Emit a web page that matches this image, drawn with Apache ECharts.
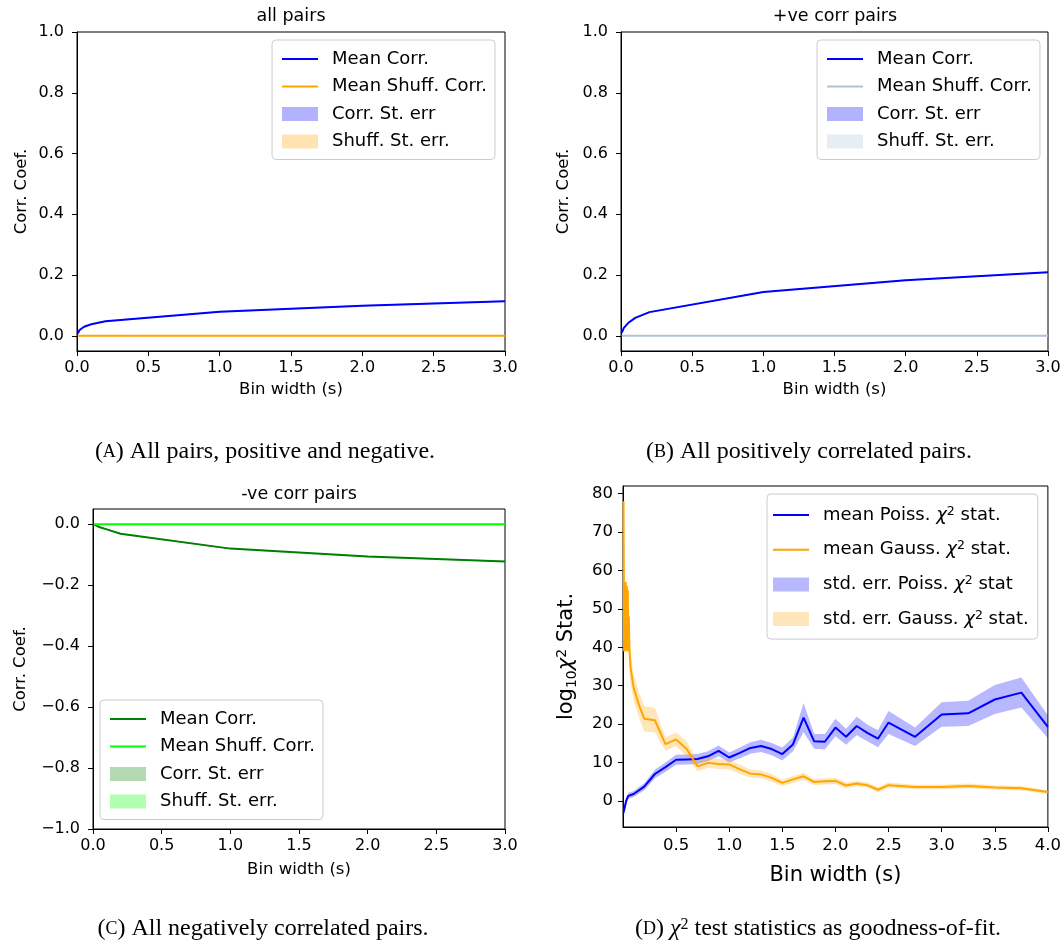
<!DOCTYPE html>
<html><head><meta charset="utf-8">
<script src="https://cdn.jsdelivr.net/npm/echarts@6/dist/echarts.min.js"></script>
<style>html,body{margin:0;padding:0;background:#fff}#c{width:1064px;height:947px}</style>
</head><body><div id="c"></div>
<script>
// ---------- data ----------
const binX = [0.005, 0.02, 0.05, 0.1, 0.2, 1.0, 2.0, 3.0];
const allMean = [0.008, 0.020, 0.030, 0.038, 0.048, 0.079, 0.099, 0.114];
const allShuff = [0, 0, 0, 0, 0, 0, 0, 0];
const posMean = [0.010, 0.026, 0.042, 0.059, 0.078, 0.144, 0.183, 0.209];
const posShuff = [0, 0, 0, 0, 0, 0, 0, 0];
const negMean = [-0.001, -0.004, -0.010, -0.017, -0.031, -0.080, -0.106, -0.122];
const negShuff = [0, 0, 0, 0, 0, 0, 0, 0];
const corrErr = [0.001, 0.0015, 0.002, 0.002, 0.002, 0.002, 0.002, 0.002];
const shuffErr = [0.0005, 0.0005, 0.0005, 0.0005, 0.0005, 0.0005, 0.0005, 0.0005];

const chiX = [0.005, 0.03, 0.05, 0.1, 0.2, 0.3, 0.4, 0.5, 0.6, 0.7, 0.8, 0.9, 1.0, 1.1, 1.2, 1.3, 1.4, 1.5, 1.6, 1.7, 1.8, 1.9, 2.0, 2.1, 2.2, 2.3, 2.4, 2.5, 2.75, 3.0, 3.25, 3.5, 3.75, 4.0];
const poissMean = [-3.0, 0.0, 1.3, 1.8, 3.7, 7.0, 8.8, 10.7, 10.8, 10.9, 11.6, 13.0, 11.3, 12.5, 13.8, 14.3, 13.5, 12.2, 14.7, 21.7, 15.5, 15.4, 19.1, 16.7, 19.5, 17.7, 16.2, 20.4, 16.7, 22.5, 22.8, 26.4, 28.2, 19.3];
const poissErr = [1.5, 1.0, 0.8, 0.8, 0.9, 1.1, 1.2, 1.3, 1.3, 1.3, 1.3, 1.4, 1.3, 1.4, 1.5, 1.6, 1.6, 1.7, 1.8, 3.8, 1.9, 2.0, 2.3, 2.1, 2.4, 2.2, 2.2, 3.0, 2.4, 3.2, 3.3, 3.8, 3.9, 3.0];
const gaussX = [0.005, 0.01, 0.015, 0.02, 0.025, 0.03, 0.035, 0.04, 0.045, 0.05, 0.055, 0.06, 0.07, 0.08, 0.1, 0.15, 0.2, 0.3, 0.4, 0.5, 0.6, 0.7, 0.8, 0.9, 1.0, 1.1, 1.2, 1.3, 1.4, 1.5, 1.6, 1.7, 1.8, 1.9, 2.0, 2.1, 2.2, 2.3, 2.4, 2.5, 2.75, 3.0, 3.25, 3.5, 3.75, 4.0];
const gaussMean = [78, 39, 57, 40, 57, 39, 56, 40, 55, 39, 48, 40, 35, 33, 29.5, 25, 21.4, 21, 14.8, 16.0, 13.5, 9.0, 9.9, 9.6, 9.5, 8.2, 7.1, 6.9, 6.0, 4.7, 5.6, 6.4, 4.9, 5.1, 5.2, 4.0, 4.5, 4.1, 2.9, 4.1, 3.6, 3.6, 3.9, 3.5, 3.3, 2.3];
const gaussErr = [3, 6, 7, 6, 7, 6, 7, 6, 6, 5, 5, 5, 4.5, 4, 3.5, 3.3, 3.3, 3.2, 1.8, 1.8, 2.0, 1.3, 1.3, 1.3, 1.3, 1.2, 1.1, 1.0, 1.0, 0.9, 0.9, 0.9, 0.8, 0.8, 0.8, 0.8, 0.7, 0.7, 0.7, 0.7, 0.6, 0.6, 0.6, 0.6, 0.6, 0.5];

const corrTicks = [0, 0.2, 0.4, 0.6, 0.8, 1.0];
const negTicks = [-1.0, -0.8, -0.6, -0.4, -0.2, 0.0];
const binTicks = [0, 0.5, 1.0, 1.5, 2.0, 2.5, 3.0];
const chiYTicks = [0, 10, 20, 30, 40, 50, 60, 70, 80];
const chiXTicks = [0.5, 1.0, 1.5, 2.0, 2.5, 3.0, 3.5, 4.0];

// ---------- helpers ----------
const F = 'DejaVu Sans';
const SERIF = 'Liberation Serif';
const fmt1 = v => (v < -1e-9 ? '\u2212' + Math.abs(v).toFixed(1) : Math.abs(v).toFixed(1));
const fmtInt = v => (v < 0 ? '\u2212' + Math.abs(v) : String(v));
const pairs = (xs, ys) => xs.map((x, i) => [x, ys[i]]);
const LINE_ICON = 'path://M0,0 L36,0 L36,2 L0,2 Z';

function lineS(name, gi, xs, ys, color, w) {
  return { type: 'line', name, xAxisIndex: gi, yAxisIndex: gi, data: pairs(xs, ys),
    symbol: 'none', lineStyle: { color, width: w }, itemStyle: { color }, z: 3, animation: false, silent: true };
}
function bandS(name, gi, xs, ys, err, color) {
  return { type: 'custom', name, xAxisIndex: gi, yAxisIndex: gi, clip: true, silent: true,
    itemStyle: { color }, data: [[xs[0], ys[0]]], encode: { x: 0, y: 1 }, z: 2, animation: false,
    renderItem: (params, api) => {
      const up = xs.map((x, i) => api.coord([x, ys[i] + err[i]]));
      const lo = xs.map((x, i) => api.coord([x, ys[i] - err[i]])).reverse();
      return { type: 'polygon', shape: { points: up.concat(lo) }, style: { fill: color } };
    } };
}
function xAx(gi, min, max, ticks, fmt, fs, nameFs, gap, lm) {
  return { type: 'value', gridIndex: gi, min, max, name: 'Bin width (s)', nameLocation: 'middle', nameGap: gap,
    nameTextStyle: { fontSize: nameFs, color: '#000', fontFamily: F },
    axisLine: { show: true, onZero: false, lineStyle: { color: '#000', width: 1 } },
    axisTick: { show: true, customValues: ticks, length: 5, lineStyle: { color: '#000', width: 1 } },
    axisLabel: { customValues: ticks, formatter: fmt, fontSize: fs, color: '#000', fontFamily: F, margin: lm },
    splitLine: { show: false } };
}
function yAx(gi, min, max, ticks, fmt, name, fs, nameStyle, gap, lm) {
  return { type: 'value', gridIndex: gi, min, max, name, nameLocation: 'middle', nameGap: gap, nameRotate: 90,
    nameTextStyle: nameStyle,
    axisLine: { show: true, onZero: false, lineStyle: { color: '#000', width: 1 } },
    axisTick: { show: true, customValues: ticks, length: 5, lineStyle: { color: '#000', width: 1 } },
    axisLabel: { customValues: ticks, formatter: fmt, fontSize: fs, color: '#000', fontFamily: F, margin: lm },
    splitLine: { show: false } };
}
const legendRich = {
  n: { fontSize: 18, lineHeight: 20, fontFamily: F, color: '#000' },
  i: { fontSize: 18, lineHeight: 20, fontFamily: F, fontStyle: 'italic', color: '#000' },
  s: { fontSize: 12.5, lineHeight: 11, fontFamily: F, color: '#000', verticalAlign: 'top' }
};
function richName(label) {
  const parts = label.split('\u03C7\u00B2');
  if (parts.length === 1) return label;
  return '{n|' + parts[0] + '}{i|\u03C7}{s|2}{n|' + parts[1] + '}';
}
function legendOf(left, top, names, patchIdx, fs, lh, gap, pad) {
  return { show: true, orient: 'vertical', left, top, itemWidth: 36, itemHeight: 14, itemGap: gap, padding: pad,
    backgroundColor: 'rgba(255,255,255,0.85)', borderColor: '#cccccc', borderWidth: 1, borderRadius: 4,
    selectedMode: false, symbolKeepAspect: true,
    formatter: n => richName(n.split('|')[1]),
    textStyle: { fontSize: fs, lineHeight: lh, color: '#000', fontFamily: F, padding: [0, 0, 0, 9], rich: legendRich },
    data: names.map((n, i) => patchIdx.includes(i) ? { name: n, icon: 'rect' } : { name: n, icon: LINE_ICON }) };
}

const grids = [
  { left: 77, top: 32, width: 428, height: 319 },
  { left: 621, top: 32, width: 427, height: 319 },
  { left: 93, top: 509, width: 412, height: 320 },
  { left: 623, top: 486, width: 425, height: 341 }
].map(g => Object.assign(g, { show: true, borderColor: '#000', borderWidth: 1, backgroundColor: 'transparent' }));

const cBlue = '#0000ff', cOrange = '#ffa500', cSteel = '#b0c4de', cDG = '#008000', cLime = '#00ff00';

const series = [
  bandS('A|Corr. St. err', 0, binX, allMean, corrErr, 'rgba(0,0,255,0.3)'),
  bandS('A|Shuff. St. err.', 0, binX, allShuff, shuffErr, 'rgba(255,165,0,0.3)'),
  lineS('A|Mean Corr.', 0, binX, allMean, cBlue, 2),
  lineS('A|Mean Shuff. Corr.', 0, binX, allShuff, cOrange, 2),

  bandS('B|Corr. St. err', 1, binX, posMean, corrErr, 'rgba(0,0,255,0.3)'),
  bandS('B|Shuff. St. err.', 1, binX, posShuff, shuffErr, 'rgba(176,196,222,0.3)'),
  lineS('B|Mean Corr.', 1, binX, posMean, cBlue, 2),
  lineS('B|Mean Shuff. Corr.', 1, binX, posShuff, cSteel, 2),

  bandS('C|Corr. St. err', 2, binX, negMean, corrErr, 'rgba(0,128,0,0.3)'),
  bandS('C|Shuff. St. err.', 2, binX, negShuff, shuffErr, 'rgba(0,255,0,0.3)'),
  lineS('C|Mean Corr.', 2, binX, negMean, cDG, 2),
  lineS('C|Mean Shuff. Corr.', 2, binX, negShuff, cLime, 2),

  bandS('D|std. err. Poiss. \u03C7\u00B2 stat', 3, chiX, poissMean, poissErr, 'rgba(0,0,255,0.28)'),
  bandS('D|std. err. Gauss. \u03C7\u00B2 stat.', 3, gaussX, gaussMean, gaussErr, 'rgba(255,165,0,0.28)'),
  lineS('D|mean Poiss. \u03C7\u00B2 stat.', 3, chiX, poissMean, cBlue, 2),
  lineS('D|mean Gauss. \u03C7\u00B2 stat.', 3, gaussX, gaussMean, cOrange, 2)
];

const legA = ['A|Mean Corr.', 'A|Mean Shuff. Corr.', 'A|Corr. St. err', 'A|Shuff. St. err.'];
const legB = legA.map(n => 'B|' + n.split('|')[1]);
const legC = legA.map(n => 'C|' + n.split('|')[1]);
const legD = ['D|mean Poiss. \u03C7\u00B2 stat.', 'D|mean Gauss. \u03C7\u00B2 stat.', 'D|std. err. Poiss. \u03C7\u00B2 stat', 'D|std. err. Gauss. \u03C7\u00B2 stat.'];

function capText(x, y, letter, rest, chi) {
  const rich = {
    p: { fontFamily: SERIF, fontSize: 24, fill: '#000' },
    s: { fontFamily: SERIF, fontSize: 18, fill: '#000' },
    i: { fontFamily: SERIF, fontSize: 24, fontStyle: 'italic', fill: '#000' },
    u: { fontFamily: SERIF, fontSize: 16, fill: '#000', verticalAlign: 'top', lineHeight: 16 }
  };
  const t = '{p|(}{s|' + letter + '}{p|) }' + (chi ? '{i|\u03C7}{u|2}' : '') + '{p|' + rest + '}';
  return { type: 'text', x, y, style: { text: t, rich, textAlign: 'center', textVerticalAlign: 'middle' } };
}
function titleText(x, y, t) {
  return { type: 'text', x, y, style: { text: t, fontFamily: F, fontSize: 17.5, fill: '#000', textAlign: 'center', textVerticalAlign: 'middle' } };
}
const corrName = { fontSize: 16.5, color: '#000', fontFamily: F };
const chiName = { fontSize: 21, color: '#000', fontFamily: F, lineHeight: 24,
  rich: {
    n: { fontSize: 21, fontFamily: F, color: '#000', lineHeight: 24 },
    b: { fontSize: 14, fontFamily: F, color: '#000', verticalAlign: 'bottom', lineHeight: 14 },
    i: { fontSize: 21, fontFamily: F, fontStyle: 'italic', color: '#000', lineHeight: 24 },
    t: { fontSize: 14, fontFamily: F, color: '#000', verticalAlign: 'top', lineHeight: 13 }
  } };

const option = {
  animation: false,
  backgroundColor: '#ffffff',
  grid: grids,
  xAxis: [
    xAx(0, 0, 3, binTicks, fmt1, 16, 16.5, 30, 9),
    xAx(1, 0, 3, binTicks, fmt1, 16, 16.5, 30, 9),
    xAx(2, 0, 3, binTicks, fmt1, 16, 16.5, 32, 9),
    xAx(3, 0, 4, chiXTicks, fmt1, 16.5, 21, 38, 10)
  ],
  yAxis: [
    yAx(0, -0.05, 1.0, corrTicks, fmt1, 'Corr. Coef.', 16, corrName, 47, 13),
    yAx(1, -0.05, 1.0, corrTicks, fmt1, 'Corr. Coef.', 16, corrName, 49, 13),
    yAx(2, -1.0, 0.05, negTicks, fmt1, 'Corr. Coef.', 16, corrName, 64, 13),
    yAx(3, -6.8, 82, chiYTicks, fmtInt, '{n|log}{b|10}{i|\u03C7}{t|2}{n| Stat.}', 16.5, chiName, 44, 10)
  ],
  legend: [
    legendOf(272, 40, legA, [2, 3], 18, 17, 9.5, [10, 8, 9, 10]),
    legendOf(817, 40, legB, [2, 3], 18, 17, 9.5, [10, 8, 9, 10]),
    legendOf(100, 700, legC, [2, 3], 18, 17, 9.5, [10, 8, 9, 10]),
    legendOf(767, 494, legD, [2, 3], 18, 20, 14.7, [11, 9, 10, 6])
  ],
  series,
  graphic: [
    titleText(291, 16, 'all pairs'),
    titleText(835, 16, '+ve corr pairs'),
    titleText(299, 494, '-ve corr pairs'),
    capText(265, 452, 'A', 'All pairs, positive and negative.', false),
    capText(809, 452, 'B', 'All positively correlated pairs.', false),
    capText(263, 929, 'C', 'All negatively correlated pairs.', false),
    capText(818, 929, 'D', ' test statistics as goodness-of-fit.', true)
  ]
};

const chart = echarts.init(document.getElementById('c'), null, { renderer: 'canvas' });
chart.setOption(option);
</script>
</body></html>
